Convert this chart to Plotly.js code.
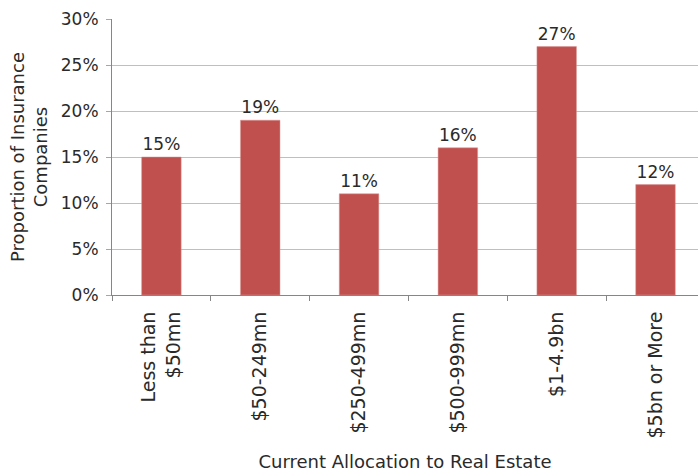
<!DOCTYPE html>
<html><head><meta charset="utf-8">
<script src="https://cdn.plot.ly/plotly-3.0.1.min.js"></script>
<style>html,body{margin:0;padding:0;background:#fff}#chart{width:698px;height:472px}</style>
</head><body><div id="chart"></div>
<script>
const categories = ["Less than<br>$50mn", "$50-249mn", "$250-499mn", "$500-999mn", "$1-4.9bn", "$5bn or More"];
const values = [15, 19, 11, 16, 27, 12];
const yTickVals = [0, 5, 10, 15, 20, 25, 30];
const yTickText = ["0%", "5%", "10%", "15%", "20%", "25%", "30%"];
const labels = values.map(v => v + "%");
const FONT = "DejaVu Sans, sans-serif";
const TXT = "#2a2a2a";
Plotly.newPlot("chart", [{
  type: "bar", x: categories, y: values, text: labels,
  textposition: "outside", cliponaxis: false,
  textfont: {family: FONT, size: 17, color: TXT},
  marker: {color: "#C0504D", line: {color: "#D99694", width: 0.5}},
  hoverinfo: "none"
}], {
  width: 698, height: 472,
  margin: {l: 112, r: 0, t: 19, b: 177},
  paper_bgcolor: "#fff", plot_bgcolor: "#fff",
  bargap: 0.6, showlegend: false,
  font: {family: FONT, size: 16, color: TXT},
  xaxis: {
    type: "category", range: [-0.5, 5.43], tickson: "boundaries",
    ticks: "outside", ticklen: 5, tickcolor: "#868686",
    showline: true, linecolor: "#868686", linewidth: 1,
    tickangle: -90, tickfont: {family: FONT, size: 19, color: TXT},
    ticklabelstandoff: 8,
    showgrid: false, automargin: false,
    title: {text: "Current Allocation to Real Estate", font: {family: FONT, size: 18, color: TXT}, standoff: 17}
  },
  yaxis: {
    range: [0, 30], tickvals: yTickVals, ticktext: yTickText,
    ticks: "outside", ticklen: 5, tickcolor: "#A6A6A6",
    showline: true, linecolor: "#868686", linewidth: 1,
    gridcolor: "#BFBFBF", gridwidth: 1, zeroline: false,
    tickfont: {family: FONT, size: 17, color: TXT},
    ticklabelstandoff: 4, automargin: false,
    title: {text: "Proportion of Insurance<br>Companies", font: {family: FONT, size: 18, color: TXT}, standoff: 8}
  }
}, {staticPlot: true});
</script></body></html>
